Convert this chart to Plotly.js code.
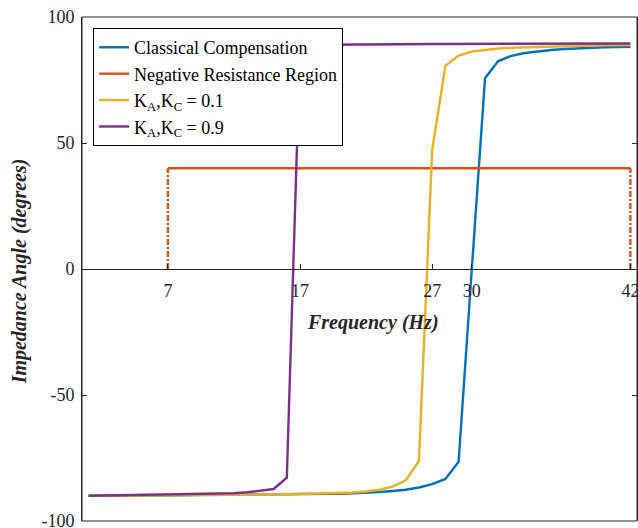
<!DOCTYPE html>
<html>
<head>
<meta charset="utf-8">
<script src="https://cdn.plot.ly/plotly-3.0.1.min.js"></script>
<style>html,body{margin:0;padding:0;background:#fff;}#chart{width:638px;height:528px;}</style>
</head>
<body>
<div id="chart"></div>
<script>
// Frequencies (Hz)
const freq = [1,2,3,4,5,6,7,8,9,10,11,12,13,14,15,16,17,18,19,20,21,22,23,24,25,26,27,28,29,30,31,32,33,34,35,36,37,38,39,40,41,42];

// Classical Compensation
const classical = [-90.0,-90.0,-89.9,-89.9,-89.9,-89.8,-89.8,-89.8,-89.7,-89.7,-89.6,-89.6,-89.5,-89.5,-89.4,-89.4,-89.3,-89.3,-89.2,-89.2,-89.0,-88.8,-88.5,-88.1,-87.6,-86.7,-85.4,-83.3,-76.5,0.0,75.7,82.5,84.6,85.7,86.4,86.9,87.3,87.6,87.8,88.0,88.1,88.2];

// K_A,K_C = 0.1
const k01 = [-90.0,-90.0,-89.9,-89.9,-89.9,-89.8,-89.8,-89.8,-89.7,-89.7,-89.7,-89.6,-89.6,-89.5,-89.5,-89.4,-89.3,-89.2,-89.1,-88.9,-88.7,-88.3,-87.6,-86.4,-83.9,-76.2,47.2,80.6,84.7,86.3,87.0,87.5,87.8,88.0,88.2,88.3,88.5,88.6,88.7,88.8,88.8,88.9];

// K_A,K_C = 0.9
const k09 = [-90.0,-89.9,-89.9,-89.8,-89.8,-89.7,-89.7,-89.6,-89.5,-89.4,-89.2,-89.0,-88.6,-88.1,-87.3,-82.8,88.3,88.7,88.9,89.0,89.1,89.1,89.2,89.2,89.2,89.3,89.3,89.3,89.3,89.4,89.4,89.4,89.4,89.4,89.4,89.5,89.5,89.5,89.5,89.5,89.5,89.5];

// Negative resistance region
const negRegionX = [7, 42];
const negRegionLevel = 40;

const xTicks = [7, 17, 27, 30, 42];
const yTicks = [-100, -50, 0, 50, 100];
const yTickText = ['-100', '-50', '0', '50', '100'];

const FONT = 'Liberation Serif, Times New Roman, serif';
const AXC = '#262626';

const traces = [
  {x: freq, y: classical, type: 'scatter', mode: 'lines', name: 'Classical Compensation',
   line: {color: '#0072BD', width: 2.4}},
  {x: negRegionX, y: [negRegionLevel, negRegionLevel], type: 'scatter', mode: 'lines', name: 'Negative Resistance Region',
   line: {color: '#D95319', width: 2.4}},
  {x: [negRegionX[0], negRegionX[0]], y: [0, negRegionLevel], type: 'scatter', mode: 'lines', showlegend: false,
   line: {color: '#D95319', width: 2.4, dash: '6px,2px,2px,2px'}, hoverinfo: 'skip'},
  {x: [negRegionX[1], negRegionX[1]], y: [0, negRegionLevel], type: 'scatter', mode: 'lines', showlegend: false,
   line: {color: '#D95319', width: 2.4, dash: '6px,2px,2px,2px'}, hoverinfo: 'skip'},
  {x: freq, y: k01, type: 'scatter', mode: 'lines', name: 'K<sub>A</sub>,K<sub>C</sub> = 0.1',
   line: {color: '#EDB120', width: 2.4}},
  {x: freq, y: k09, type: 'scatter', mode: 'lines', name: 'K<sub>A</sub>,K<sub>C</sub> = 0.9',
   line: {color: '#7E2F8E', width: 2.4}}
];

const layout = {
  width: 638, height: 528,
  margin: {l: 82, r: 1, t: 17, b: 7, pad: 0},
  paper_bgcolor: '#fff', plot_bgcolor: '#fff',
  font: {family: FONT, size: 18, color: '#000'},
  showlegend: true,
  legend: {
    x: 0.02, y: 0.978, xanchor: 'left', yanchor: 'top',
    bgcolor: '#fff', bordercolor: '#000', borderwidth: 1,
    font: {family: FONT, size: 18, color: '#000'},
    tracegroupgap: 0
  },
  xaxis: {
    range: [0.5, 42.5], anchor: 'free', position: 0.5,
    showline: true, linecolor: AXC, linewidth: 1,
    ticks: 'inside', ticklen: 5, tickcolor: AXC, tickwidth: 1,
    tickmode: 'array', tickvals: xTicks,
    tickfont: {family: FONT, size: 18, color: '#262626'},
    ticklabeloverflow: 'allow', ticklabelstandoff: 5,
    showgrid: false, zeroline: false, fixedrange: true
  },
  yaxis: {
    range: [-100, 100],
    showline: true, linecolor: AXC, linewidth: 1, mirror: 'ticks',
    ticks: 'inside', ticklen: 5, tickcolor: AXC, tickwidth: 1,
    tickmode: 'array', tickvals: yTicks, ticktext: yTickText,
    tickfont: {family: FONT, size: 18, color: '#262626'},
    ticklabeloverflow: 'allow', ticklabelstandoff: 3,
    showgrid: false, zeroline: false, fixedrange: true
  },
  shapes: [
    {type: 'rect', xref: 'paper', yref: 'paper', x0: 0, x1: 1, y0: 0, y1: 1,
     line: {color: AXC, width: 1}, fillcolor: 'rgba(0,0,0,0)', layer: 'above'}
  ],
  annotations: [
    {text: '<b><i>Frequency (Hz)</i></b>', xref: 'paper', yref: 'paper',
     x: 0.524, y: 0.393, xanchor: 'center', yanchor: 'middle', showarrow: false,
     font: {family: FONT, size: 20, color: '#262626'}},
    {text: '<b><i>Impedance Angle (degrees)</i></b>', xref: 'paper', yref: 'paper',
     x: -0.112, y: 0.495, xanchor: 'center', yanchor: 'middle', showarrow: false, textangle: -90,
     font: {family: FONT, size: 20, color: '#262626'}}
  ]
};

Plotly.newPlot('chart', traces, layout, {displayModeBar: false, staticPlot: true});
</script>
</body>
</html>
